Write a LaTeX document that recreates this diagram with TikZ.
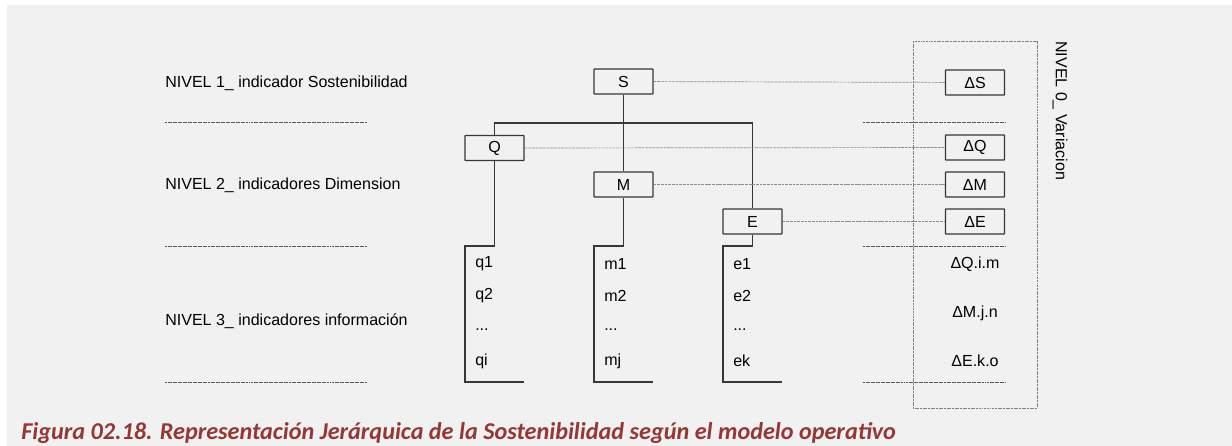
\documentclass[tikz,border=0pt]{standalone}
\usepackage{fontspec}
\usepackage{xcolor}
\usepackage{tikz}
\setmainfont{Liberation Sans}
\newfontfamily\captionfont{Carlito}
\definecolor{sheetgray}{RGB}{241, 241, 241}
\definecolor{captionred}{RGB}{149, 55, 53}
\definecolor{lineink}{RGB}{55, 55, 55}

\begin{document}
\begin{tikzpicture}[
    x=0.025cm, y=-0.025cm,
    font=\fontsize{11.4}{13}\selectfont,
    box/.style={rectangle, draw=lineink, line width=0.9pt, fill=sheetgray, minimum width=1.475cm, minimum height=0.625cm, inner sep=0pt, rounded corners=0.4pt},
    item/.style={anchor=west, inner sep=0pt},
    tree/.style={draw=lineink, line width=0.9pt},
    link/.style={draw=black!45, line width=0.5pt, dash pattern=on 2pt off 0.6pt},
    rule/.style={draw=black!65, line width=0.6pt, dash pattern=on 1.4pt off 0.4pt},
    frame/.style={draw=black!50, line width=0.5pt, dash pattern=on 1.4pt off 0.5pt}
]
    \useasboundingbox (0,0) rectangle (1232,446);
    \fill[sheetgray] (7,5) rectangle (1232,446);

    % Level labels
    \node[item] (lvl1) at (165,83) {NIVEL 1\_ indicador Sostenibilidad};
    \node[item] (lvl2) at (165,185) {NIVEL 2\_ indicadores Dimension};
    \node[item] (lvl3) at (165,321) {NIVEL 3\_ indicadores informaci\'on};
    \foreach \y in {122,246,382} {
        \draw[rule] (165,\y) -- (367,\y);
        \draw[rule] (863,\y) -- (1005,\y);
    }

    % Variation frame
    \draw[frame] (913,41) rectangle (1037,408);
    \node[rotate=-90, anchor=west, inner sep=0pt] (lvl0) at (1060,41) {NIVEL 0\_ Variacion};

    % Indicators
    \node[box] (S) at (623.5,81.5) {S};
    \node[box] (Q) at (494.5,148) {Q};
    \node[box] (M) at (623.5,184.5) {M};
    \node[box] (E) at (752.5,221.5) {E};

    % Variations
    \node[box] (dS) at (975,82.5) {ΔS};
    \node[box] (dQ) at (975,147.5) {ΔQ};
    \node[box] (dM) at (975,184.5) {ΔM};
    \node[box] (dE) at (975,221.5) {ΔE};

    % Information items
    \node[item] (q1) at (475,264) {q1};
    \node[item] (q2) at (475,296) {q2};
    \node[item] (qd) at (475,330) {...};
    \node[item] (qi) at (475,361) {qi};
    \node[item] (m1) at (604,264) {m1};
    \node[item] (m2) at (604,296) {m2};
    \node[item] (md) at (604,330) {...};
    \node[item] (mj) at (604,361) {mj};
    \node[item] (e1) at (733,264) {e1};
    \node[item] (e2) at (733,296) {e2};
    \node[item] (ed) at (733,330) {...};
    \node[item] (ek) at (733,361) {ek};
    \node (dQim) at (975,264) {ΔQ.i.m};
    \node (dMjn) at (975,313) {ΔM.j.n};
    \node (dEko) at (975,361) {ΔE.k.o};

    % Tree
    \coordinate (bar) at (623.5,123);
    \coordinate (qa) at (465,246);
    \coordinate (qb) at (524,382);
    \coordinate (ma) at (594,246);
    \coordinate (mb) at (653,382);
    \coordinate (ea) at (723,246);
    \coordinate (eb) at (782,382);
    \draw[tree] (S.south) -- (M.north);
    \draw[tree] (Q.north) |- (bar) -| (E.north);
    \draw[tree] (Q.south) |- (qa) |- (qb);
    \draw[tree] (M.south) |- (ma) |- (mb);
    \draw[tree] (E.south) |- (ea) |- (eb);

    % Links to variations
    \draw[link] (S) -- (dS);
    \draw[link] (Q) -- (dQ);
    \draw[link] (M) -- (dM);
    \draw[link] (E) -- (dE);

    % Caption
    \node[anchor=west, inner sep=0pt, text=captionred, font=\captionfont\bfseries\itshape\fontsize{17.2}{19}\selectfont] (cap) at (21,433) {Figura 02.18. Representaci\'on Jer\'arquica de la Sostenibilidad seg\'un el modelo operativo};
\end{tikzpicture}
\end{document}
